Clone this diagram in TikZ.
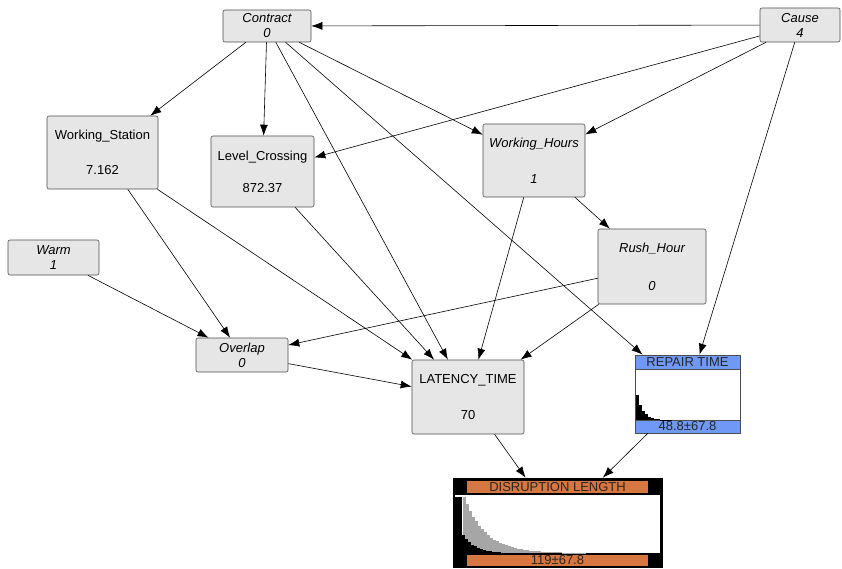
\documentclass[tikz,border=0pt]{standalone}
\usepackage{fontspec}
\setmainfont{Liberation Sans}
\usetikzlibrary{arrows.meta}
\definecolor{boxgray}{RGB}{230,230,230}
\definecolor{repairblue}{RGB}{112,152,246}
\definecolor{disrorange}{RGB}{214,118,64}
\tikzset{
  var/.style={draw=black!70,fill=boxgray,rounded corners=2pt,align=center,
    inner sep=0pt,font=\fontsize{13}{15}\selectfont},
  ital/.style={var,font=\fontsize{13}{15}\selectfont\itshape},
  hdr/.style={inner sep=0pt,font=\fontsize{13}{14}\selectfont,text=black!85}
}
\begin{document}
\begin{tikzpicture}[->,>={Latex[length=11pt,width=8pt]},x=1pt,y=-1pt,line width=0.6pt]
\useasboundingbox (0,0) rectangle (842,569);
% top row
\node[ital,minimum width=88pt,minimum height=32pt] (contract) at (267,26) {Contract\\0};
\node[ital,minimum width=80pt,minimum height=34pt] (cause) at (800,25) {Cause\\4};
% middle
\node[var,minimum width=111pt,minimum height=73pt] (station) at (102.5,152.5) {Working\_Station\\[20pt]7.162};
\node[var,minimum width=103pt,minimum height=71pt] (crossing) at (262.5,171.5) {Level\_Crossing\\[17pt]872.37};
\node[ital,minimum width=102pt,minimum height=73pt] (hours) at (534,160.5) {Working\_Hours\\[21pt]1};
\node[ital,minimum width=108pt,minimum height=75pt] (rush) at (652,266.5) {Rush\_Hour\\[23pt]0};
\node[ital,minimum width=91pt,minimum height=35pt] (warm) at (53.5,257.5) {Warm\\1};
\node[ital,minimum width=92pt,minimum height=34pt] (overlap) at (242,355) {Overlap\\0};
\node[var,minimum width=112pt,minimum height=74pt] (latency) at (468,397) {LATENCY\_TIME\\[21pt]70};
% repair time
\node[draw=black!70,fill=white,minimum width=105pt,minimum height=78pt] (repair) at (687.5,394) {};
\node[hdr,draw=black!70,fill=repairblue,minimum width=105pt,minimum height=14pt,anchor=north] (repairhead) at (repair.north) {REPAIR TIME};
\node[hdr,draw=black!70,fill=repairblue,minimum width=105pt,minimum height=13pt,anchor=south] (repairval) at (repair.south) {48.8±67.8};
\foreach \i in {0,...,11}
  \fill[-,black] ({636+3*\i},420) rectangle ++(3,{-25*exp(-\i/2)});
% disruption length
\node[draw=black,fill=black,minimum width=209pt,minimum height=89pt] (disruption) at (557.5,522.5) {};
\fill[-,white] (455,495) rectangle (660,553);
\node[hdr,fill=disrorange,minimum width=181pt,minimum height=12pt] (disrhead) at (557.5,487) {DISRUPTION LENGTH};
\node[hdr,fill=disrorange,minimum width=181pt,minimum height=11pt] (disrval) at (557.5,560.5) {119±67.8};
\foreach \i in {0,...,40}
  \fill[-,black!35] ({463+3*\i},553) rectangle ++(3,{-56*exp(-\i/7)});
\fill[-,black] (455,553) rectangle (462,497);
\foreach \i in {0,...,12}
  \fill[-,black] ({462+3*\i},553) rectangle ++(3,{-18*exp(-\i/4)});
% links
\path (cause) edge (contract);
\path (cause) edge (crossing);
\path (cause) edge (hours);
\path (cause) edge (repair);
\path (contract) edge (station);
\path (contract) edge (crossing);
\path (contract) edge (hours);
\path (contract) edge (latency);
\path (contract) edge (repair);
\path (station) edge (overlap);
\path (station) edge (latency);
\path (crossing) edge (latency);
\path (hours) edge (rush);
\path (hours) edge (latency);
\path (rush) edge (overlap);
\path (rush) edge (latency);
\path (warm) edge (overlap);
\path (overlap) edge (latency);
\path (latency) edge (disruption);
\path (repair) edge (disruption);
\end{tikzpicture}
\end{document}
